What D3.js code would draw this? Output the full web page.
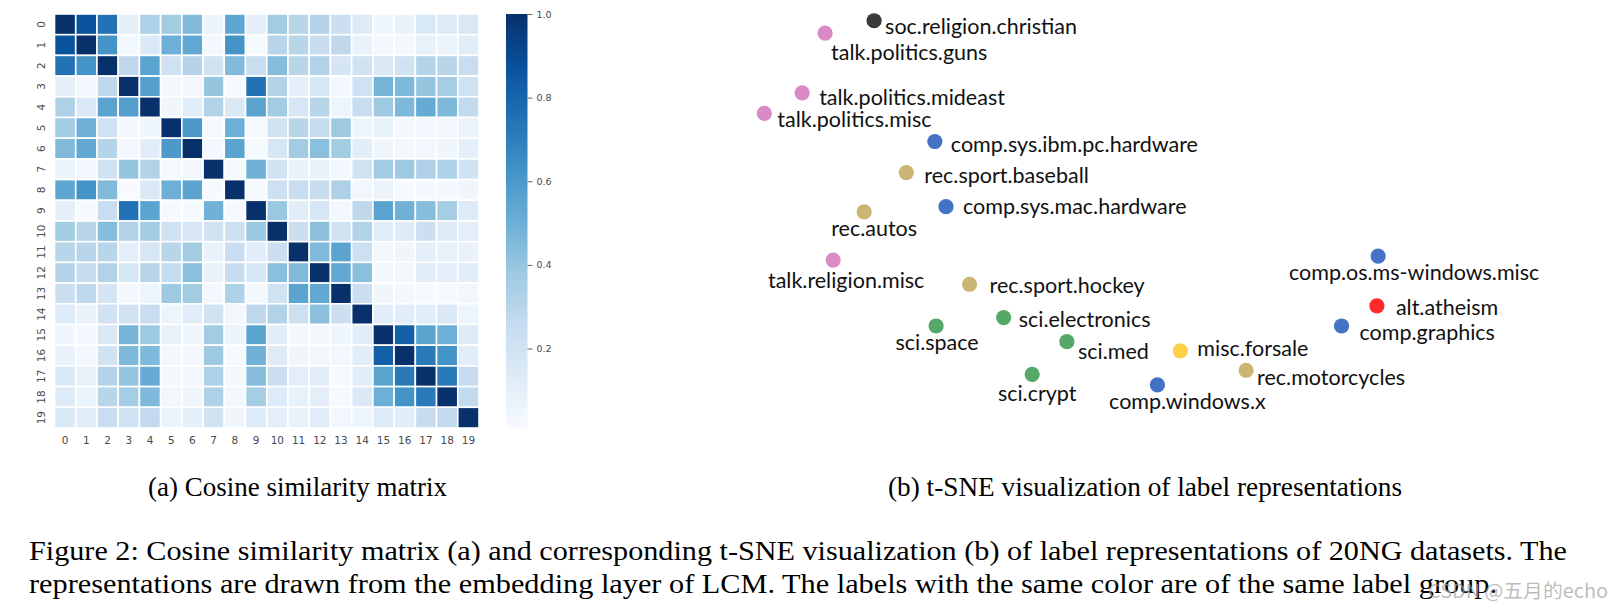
<!DOCTYPE html>
<html><head><meta charset="utf-8">
<script src="https://cdn.jsdelivr.net/npm/d3@7"></script>
<style>body{margin:0;background:#fff}svg{display:block}</style>
</head><body>
<svg id="c" width="1624" height="611"></svg>
<script>
// ---------- DATA ----------
const categories = ["0","1","2","3","4","5","6","7","8","9","10","11","12","13","14","15","16","17","18","19"];
const simRows = [
 [1.00,0.87,0.75,0.10,0.33,0.37,0.45,0.07,0.54,0.10,0.37,0.30,0.31,0.23,0.14,0.05,0.08,0.16,0.14,0.16],
 [0.87,1.00,0.62,0.03,0.15,0.50,0.53,0.03,0.62,0.02,0.30,0.30,0.25,0.28,0.08,0.03,0.03,0.09,0.07,0.12],
 [0.75,0.62,1.00,0.28,0.55,0.21,0.31,0.20,0.45,0.24,0.44,0.30,0.32,0.18,0.20,0.15,0.20,0.31,0.30,0.24],
 [0.10,0.03,0.28,1.00,0.57,0.03,0.04,0.40,0.01,0.75,0.32,0.10,0.17,0.03,0.21,0.48,0.46,0.40,0.36,0.21],
 [0.33,0.15,0.55,0.57,1.00,0.05,0.12,0.32,0.15,0.55,0.37,0.17,0.30,0.06,0.24,0.38,0.46,0.52,0.46,0.27],
 [0.37,0.50,0.21,0.03,0.05,1.00,0.60,0.02,0.50,0.02,0.20,0.30,0.26,0.38,0.06,0.09,0.03,0.03,0.04,0.07],
 [0.45,0.53,0.31,0.04,0.12,0.60,1.00,0.03,0.55,0.02,0.17,0.37,0.43,0.37,0.12,0.05,0.03,0.04,0.05,0.10],
 [0.07,0.03,0.20,0.40,0.32,0.02,0.03,1.00,0.02,0.49,0.20,0.08,0.08,0.03,0.20,0.37,0.38,0.33,0.33,0.20],
 [0.54,0.62,0.45,0.01,0.15,0.50,0.55,0.02,1.00,0.02,0.22,0.24,0.25,0.33,0.04,0.07,0.02,0.03,0.03,0.05],
 [0.10,0.02,0.24,0.75,0.55,0.02,0.02,0.49,0.02,1.00,0.39,0.12,0.17,0.03,0.28,0.55,0.49,0.44,0.36,0.14],
 [0.37,0.30,0.44,0.32,0.37,0.20,0.17,0.20,0.22,0.39,1.00,0.23,0.43,0.20,0.32,0.12,0.13,0.23,0.14,0.11],
 [0.30,0.30,0.30,0.10,0.17,0.30,0.37,0.08,0.24,0.12,0.23,1.00,0.45,0.55,0.22,0.03,0.05,0.11,0.09,0.08],
 [0.31,0.25,0.32,0.17,0.30,0.26,0.43,0.08,0.25,0.17,0.43,0.45,1.00,0.53,0.43,0.03,0.04,0.12,0.11,0.12],
 [0.23,0.28,0.18,0.03,0.06,0.38,0.37,0.03,0.33,0.03,0.20,0.55,0.53,1.00,0.23,0.05,0.03,0.02,0.02,0.04],
 [0.14,0.08,0.20,0.21,0.24,0.06,0.12,0.20,0.04,0.28,0.32,0.22,0.43,0.23,1.00,0.12,0.12,0.12,0.15,0.06],
 [0.05,0.03,0.15,0.48,0.38,0.09,0.05,0.37,0.07,0.55,0.12,0.03,0.03,0.05,0.12,1.00,0.82,0.55,0.50,0.14],
 [0.08,0.03,0.20,0.46,0.46,0.03,0.03,0.38,0.02,0.49,0.13,0.05,0.04,0.03,0.12,0.82,1.00,0.72,0.62,0.12],
 [0.16,0.09,0.31,0.40,0.52,0.03,0.04,0.33,0.03,0.44,0.23,0.11,0.12,0.02,0.12,0.55,0.72,1.00,0.72,0.25],
 [0.14,0.07,0.30,0.36,0.46,0.04,0.05,0.33,0.03,0.36,0.14,0.09,0.11,0.02,0.15,0.50,0.62,0.72,1.00,0.27],
 [0.16,0.12,0.24,0.21,0.27,0.07,0.10,0.20,0.05,0.14,0.11,0.08,0.12,0.04,0.06,0.14,0.12,0.25,0.27,1.00]
];
const colorbarTicks = [0.2, 0.4, 0.6, 0.8, 1.0];

const tsneLabels = ["soc.religion.christian","talk.politics.guns","talk.politics.mideast","talk.politics.misc",
 "comp.sys.ibm.pc.hardware","rec.sport.baseball","comp.sys.mac.hardware","rec.autos","talk.religion.misc",
 "rec.sport.hockey","sci.electronics","sci.space","sci.med","sci.crypt","comp.windows.x","misc.forsale",
 "rec.motorcycles","comp.os.ms-windows.misc","alt.atheism","comp.graphics"];
const tsneGroup = ["soc","talk","talk","talk","comp","rec","comp","rec","talk","rec","sci","sci","sci","sci",
 "comp","misc","rec","comp","alt","comp"];
const tsneX = [18.4,10.5,6.8,0.7,28.2,23.6,30.0,16.8,11.8,33.8,39.3,28.4,49.5,43.9,64.1,67.8,78.4,99.7,99.5,93.8];
const tsneY = [99.8,96.4,80.1,74.5,66.8,58.3,49.0,47.6,34.4,27.8,18.7,16.4,12.1,3.2,0.3,9.6,4.3,35.5,21.9,16.4];
const groupNames  = ["comp","rec","sci","talk","misc","alt","soc"];
const groupColors = ["#4472c4","#cab572","#55a868","#da8ac4","#ffd148","#ff2b2b","#3a3a3a"];

const captionA = "(a) Cosine similarity matrix";
const captionB = "(b) t-SNE visualization of label representations";
const figLine1 = "Figure 2: Cosine similarity matrix (a) and corresponding t-SNE visualization (b) of label representations of 20NG datasets. The";
const figLine2 = "representations are drawn from the embedding layer of LCM. The labels with the same color are of the same label group.";
const watermark = "CSDN @五月的echo";

// label placement (layout): [anchor, dx, dy]
const labelPlace = [["start",11,6],["start",6,20],["start",17,5],["start",13,7],["start",16,3],["start",18,3],
 ["start",17,0],["middle",10,17],["middle",13,21],["start",20,2],["start",15,2],["middle",1,17],["start",11,10],
 ["middle",5,20],["middle",30,17],["start",17,-2],["start",11,8],["middle",36,17],["start",19,2],["start",18,7]];

// ---------- DRAW ----------
const svg = d3.select("#c");

// heatmap
const hm = {x0:54.5, x1:479, y0:14, y1:428};
const xB = d3.scaleBand().domain(categories).range([hm.x0, hm.x1]);
const yB = d3.scaleBand().domain(categories).range([hm.y0, hm.y1]);
const flat = simRows.flat();
const vmin = d3.min(flat), vmax = d3.max(flat);
const blues = ["#f7fbff","#deebf7","#c6dbef","#9ecae1","#6baed6","#4292c6","#2171b5","#08519c","#08306b"];
const color = d3.scaleLinear()
  .domain(blues.map((_, i) => vmin + (vmax - vmin) * i / (blues.length - 1)))
  .range(blues).interpolate(d3.interpolateRgb).clamp(true);

const cells = [];
simRows.forEach((row, i) => row.forEach((v, j) => cells.push({r: categories[i], c: categories[j], v})));
svg.append("g").selectAll("rect").data(cells).join("rect")
  .attr("x", d => xB(d.c)).attr("y", d => yB(d.r))
  .attr("width", xB.bandwidth()).attr("height", yB.bandwidth())
  .attr("fill", d => color(d.v))
  .attr("stroke", "#fff").attr("stroke-width", 1.6);

const tickFont = "DejaVu Sans, sans-serif";
const xAx = svg.append("g").attr("transform", `translate(0,${hm.y1 + 9})`)
  .call(d3.axisBottom(xB).tickSize(0).tickPadding(0));
xAx.select(".domain").remove();
xAx.selectAll("text").attr("font-family", tickFont).attr("font-size", 10.5).attr("fill", "#4a4a4a")
  .attr("dy", "0.71em");

const yAx = svg.append("g").attr("transform", `translate(${hm.x0 - 8},0)`)
  .call(d3.axisLeft(yB).tickSize(0).tickPadding(0));
yAx.select(".domain").remove();
yAx.selectAll(".tick text")
  .attr("font-family", tickFont).attr("font-size", 10.5).attr("fill", "#4a4a4a")
  .attr("x", -6).attr("dy", 0)
  .attr("text-anchor", "middle").attr("dominant-baseline", "central")
  .attr("transform", "rotate(-90,-6,0)");

// colorbar
const cb = {x:506, w:21.5, y0:hm.y0, y1:hm.y1};
const cbScale = d3.scaleLinear().domain([vmin, vmax]).range([cb.y1, cb.y0]);
const grad = svg.append("defs").append("linearGradient").attr("id", "cbg")
  .attr("x1", 0).attr("y1", 1).attr("x2", 0).attr("y2", 0);
d3.range(0, 1.0001, 0.02).forEach(t => {
  grad.append("stop").attr("offset", t).attr("stop-color", color(vmin + t * (vmax - vmin)));
});
svg.append("rect").attr("x", cb.x).attr("y", cb.y0).attr("width", cb.w).attr("height", cb.y1 - cb.y0)
  .attr("fill", "url(#cbg)");
const cbAx = svg.append("g").attr("transform", `translate(${cb.x + cb.w},0)`)
  .call(d3.axisRight(cbScale).tickValues(colorbarTicks).tickFormat(d3.format(".1f")).tickSize(5).tickPadding(4));
cbAx.select(".domain").remove();
cbAx.selectAll("line").attr("stroke", "#555").attr("stroke-width", 0.9);
cbAx.selectAll("text").attr("font-family", tickFont).attr("font-size", 9.5).attr("fill", "#4a4a4a");

// t-SNE scatter
const sx = d3.scaleLinear().domain([0, 100]).range([760, 1380]);
const sy = d3.scaleLinear().domain([0, 100]).range([386, 20]);
const gc = d3.scaleOrdinal().domain(groupNames).range(groupColors);
const pts = tsneLabels.map((lab, i) => ({lab, g: tsneGroup[i], x: tsneX[i], y: tsneY[i], p: labelPlace[i]}));
const tg = svg.append("g");
tg.selectAll("circle").data(pts).join("circle")
  .attr("cx", d => sx(d.x)).attr("cy", d => sy(d.y)).attr("r", 7.6)
  .attr("fill", d => gc(d.g));
tg.selectAll("text").data(pts).join("text")
  .attr("x", d => sx(d.x) + d.p[1]).attr("y", d => sy(d.y) + d.p[2] - 1)
  .attr("text-anchor", d => d.p[0]).attr("dominant-baseline", "central")
  .attr("font-family", "Lato, 'Open Sans', sans-serif").attr("font-size", 21.5).attr("fill", "#111")
  .text(d => d.lab);

// captions
const serif = "'Liberation Serif', 'Times New Roman', serif";
const caps = [
  {t: captionA, x: 148, y: 496, w: 299},
  {t: captionB, x: 888, y: 496, w: 514},
  {t: figLine1, x: 29, y: 560, w: 1538},
  {t: figLine2, x: 29, y: 593, w: 1468}
];
svg.append("g").selectAll("text").data(caps).join("text")
  .attr("x", d => d.x).attr("y", d => d.y)
  .attr("textLength", d => d.w).attr("lengthAdjust", "spacingAndGlyphs")
  .attr("font-family", serif).attr("font-size", 27).attr("fill", "#000")
  .text(d => d.t);

svg.append("text").attr("x", 1428).attr("y", 598).attr("textLength", 180).attr("lengthAdjust", "spacingAndGlyphs")
  .attr("font-family", "'Noto Sans CJK SC', sans-serif").attr("font-size", 19)
  .attr("fill", "#a0a0a0").attr("fill-opacity", 0.7).text(watermark);
</script>
</body></html>
